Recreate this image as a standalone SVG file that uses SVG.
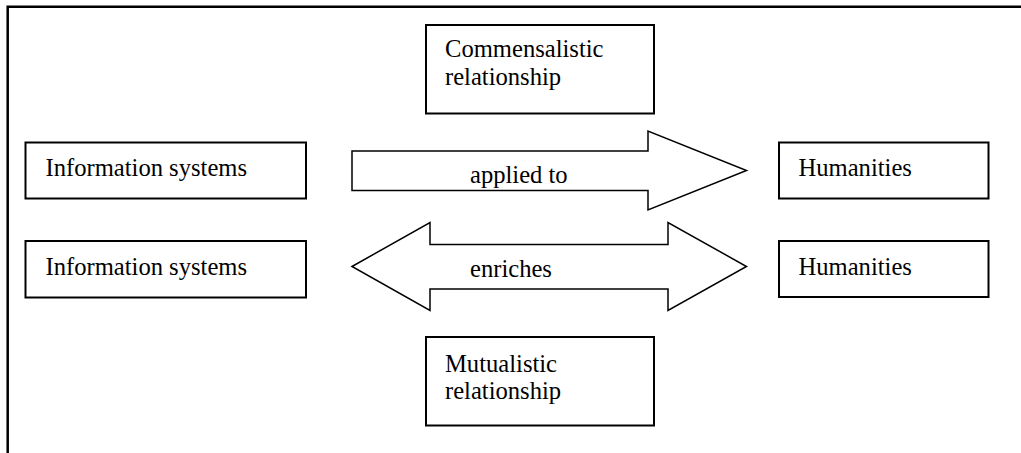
<svg xmlns="http://www.w3.org/2000/svg" width="1021" height="453" viewBox="0 0 1021 453">
<style>
.box{fill:#fff;stroke:#000;stroke-width:2}
.arr{fill:#fff;stroke:#000;stroke-width:1.5;stroke-linejoin:miter}
.t{font-family:'Liberation Serif','Times New Roman',serif;font-size:24.6px;fill:#000}
.frame{fill:none;stroke:#000;stroke-width:2.5}
</style>
<rect width="1021" height="453" fill="#fff"/>
<path class="frame" d="M7.7,453 V6.7 H1021"/>
<g id="commensalistic">
<rect class="box" x="426" y="25" width="228" height="88.5"/>
<text class="t" x="445" y="57">Commensalistic</text>
<text class="t" x="445" y="85">relationship</text>
</g>
<g id="info1">
<rect class="box" x="25.5" y="142.5" width="280.5" height="56"/>
<text class="t" x="45.5" y="175.5">Information systems</text>
</g>
<g id="hum1">
<rect class="box" x="779" y="142.5" width="209.5" height="56"/>
<text class="t" x="798.5" y="175.5">Humanities</text>
</g>
<g id="info2">
<rect class="box" x="25.5" y="241" width="280.5" height="56.5"/>
<text class="t" x="45.5" y="274.5">Information systems</text>
</g>
<g id="hum2">
<rect class="box" x="779" y="241" width="209.5" height="56"/>
<text class="t" x="798.5" y="274.5">Humanities</text>
</g>
<g id="mutualistic">
<rect class="box" x="426" y="337" width="228" height="88.5"/>
<text class="t" x="445" y="372">Mutualistic</text>
<text class="t" x="445" y="399">relationship</text>
</g>
<g id="connectors">
<g id="applied">
<polygon class="arr" points="352,151 648,151 648,131 746.5,170.5 648,210 648,190.5 352,190.5"/>
<text class="t" x="470" y="183">applied to</text>
</g>
<g id="enriches">
<polygon class="arr" points="352,266.5 430,222.5 430,244.5 668,244.5 668,222.5 746.5,266.5 668,310.5 668,289 430,289 430,310.5"/>
<text class="t" x="470" y="276.5">enriches</text>
</g>
</g>
</svg>
